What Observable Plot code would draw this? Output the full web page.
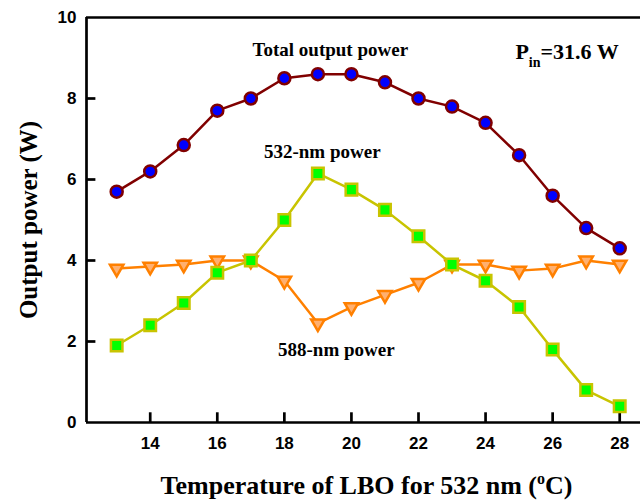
<!DOCTYPE html>
<html>
<head>
<meta charset="utf-8">
<script src="https://cdn.jsdelivr.net/npm/d3@7"></script>
<script src="https://cdn.jsdelivr.net/npm/@observablehq/plot@0.6"></script>
<style>
  html, body { margin: 0; padding: 0; background: #fff; }
</style>
</head>
<body>
<div id="chart"></div>
<script>
const temps = [13, 14, 15, 16, 17, 18, 19, 20, 21, 22, 23, 24, 25, 26, 27, 28];
const totalPower = [5.7, 6.2, 6.85, 7.7, 8.0, 8.5, 8.6, 8.6, 8.4, 8.0, 7.8, 7.4, 6.6, 5.6, 4.8, 4.3];
const power532 = [1.9, 2.4, 2.95, 3.7, 4.0, 5.0, 6.15, 5.75, 5.25, 4.6, 3.9, 3.5, 2.85, 1.8, 0.8, 0.4];
const power588 = [3.8, 3.85, 3.9, 4.0, 4.0, 3.5, 2.45, 2.85, 3.15, 3.45, 3.9, 3.9, 3.75, 3.8, 4.0, 3.9];
const xTicks = [14, 16, 18, 20, 22, 24, 26, 28];
const yTicks = [0, 2, 4, 6, 8, 10];
const yInnerTicks = [2, 4, 6, 8];

const rows = (vals) => temps.map((t, i) => ({t, v: vals[i]}));
const dTotal = rows(totalPower);
const d532 = rows(power532);
const d588 = rows(power588);

const xMin = 12.1, xMax = 28.62;
const serif = "Liberation Serif, Times New Roman, serif";
const sans = "Liberation Sans, Arial, sans-serif";

const chart = Plot.plot({
  width: 640,
  height: 501,
  marginLeft: 86,
  marginRight: 0,
  marginTop: 17,
  marginBottom: 79,
  x: {domain: [xMin, xMax]},
  y: {domain: [0, 10]},
  style: {background: "#fff"},
  marks: [
    // frame lines
    Plot.ruleX([xMin], {stroke: "#000", strokeWidth: 2.7}),
    Plot.ruleY([0], {stroke: "#000", strokeWidth: 2.7}),
    Plot.ruleY([10], {stroke: "#000", strokeWidth: 2.7}),
    // inward ticks
    Plot.ruleX(xTicks, {x: d => d, y1: 0, y2: 0.24, stroke: "#000", strokeWidth: 2.7}),
    Plot.ruleY(yInnerTicks, {y: d => d, x1: xMin, x2: xMin + 0.28, stroke: "#000", strokeWidth: 2.7}),
    // tick labels
    Plot.axisX({ticks: xTicks, tickSize: 0, tickPadding: 14, label: null, fontSize: 17, fontWeight: "bold", fontFamily: sans, fill: "#000"}),
    Plot.axisY({ticks: yTicks, tickSize: 0, tickPadding: 10, label: null, fontSize: 17, fontWeight: "bold", fontFamily: sans, fill: "#000"}),
    // 588 nm
    Plot.line(d588, {x: "t", y: "v", stroke: "#ff8000", strokeWidth: 2.5}),
    Plot.dot(d588, {x: "t", y: "v", symbol: "triangle", rotate: 180, r: 5, fill: "#ffb070", stroke: "#ff8000", strokeWidth: 2.5}),
    // 532 nm
    Plot.line(d532, {x: "t", y: "v", stroke: "#c8c400", strokeWidth: 2.5}),
    Plot.dot(d532, {x: "t", y: "v", symbol: "square", r: 6.5, fill: "#00ff00", stroke: "#c8c400", strokeWidth: 2.5}),
    // total
    Plot.line(dTotal, {x: "t", y: "v", stroke: "#800000", strokeWidth: 2.5}),
    Plot.dot(dTotal, {x: "t", y: "v", r: 6, fill: "#0000ff", stroke: "#800000", strokeWidth: 2.5}),
    // annotations
    Plot.text(["Total output power"], {x: 19.37, y: 9.06, text: d => d, textAnchor: "middle", lineAnchor: "bottom", fontSize: 19, fontWeight: "bold", fontFamily: serif, fill: "#000"}),
    Plot.text(["532-nm power"], {x: 19.13, y: 6.52, text: d => d, textAnchor: "middle", lineAnchor: "bottom", fontSize: 19, fontWeight: "bold", fontFamily: serif, fill: "#000"}),
    Plot.text(["588-nm power"], {x: 19.55, y: 1.63, text: d => d, textAnchor: "middle", lineAnchor: "bottom", fontSize: 19, fontWeight: "bold", fontFamily: serif, fill: "#000"}),
    Plot.text(["P"], {x: 24.89, y: 8.98, text: d => d, textAnchor: "start", lineAnchor: "bottom", fontSize: 22, fontWeight: "bold", fontFamily: serif, fill: "#000", className: "pin"}),
    // axis titles
    Plot.text(["Temperature of LBO for 532 nm ("], {frameAnchor: "bottom", dy: 71, dx: 3, text: d => d, textAnchor: "middle", lineAnchor: "bottom", fontSize: 26, fontWeight: "bold", fontFamily: serif, fill: "#000", className: "xlab"}),
    Plot.text(["Output power (W)"], {frameAnchor: "left", dx: -58, text: d => d, rotate: -90, textAnchor: "middle", lineAnchor: "middle", fontSize: 25, fontWeight: "bold", fontFamily: serif, fill: "#000"})
  ]
});

document.getElementById("chart").appendChild(chart);

// subscript for P_in
const svg = d3.select(chart);
svg.selectAll("g.pin text").each(function() {
  const t = d3.select(this);
  t.text("");
  t.append("tspan").text("P");
  t.append("tspan").attr("dy", 8).attr("font-size", 14).text("in");
  t.append("tspan").attr("dy", -8).text("=31.6 W");
});
// superscript for degree
svg.selectAll("g.xlab text").each(function() {
  const t = d3.select(this);
  t.text("");
  t.append("tspan").text("Temperature of LBO for 532 nm (");
  t.append("tspan").attr("dy", -10).attr("font-size", 16).text("o");
  t.append("tspan").attr("dy", 10).text("C)");
});
</script>
</body>
</html>
